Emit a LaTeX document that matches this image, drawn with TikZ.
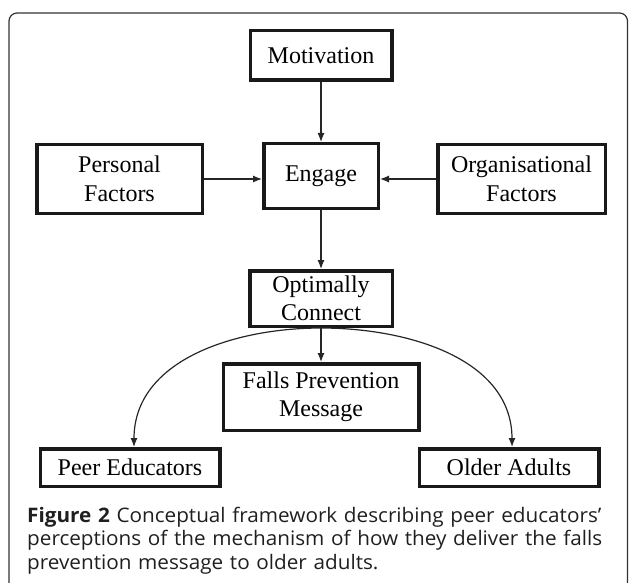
\documentclass[tikz,border=0pt]{standalone}
\usepackage{fontspec}
\setmainfont{Liberation Serif}
\newfontfamily\capfont[FakeStretch=1.035]{Open Sans}
\usetikzlibrary{arrows.meta, positioning}

\tikzset{
    factor/.style={draw=black!90, line width=3.5pt, inner sep=2pt, align=center,
        font=\fontsize{24}{28.5}\selectfont},
    link/.style={->, line width=1.2pt, draw=black!85}
}

\begin{document}
\begin{tikzpicture}[x=1pt, y=-1pt, >={Latex[length=9pt, width=7pt]}]
    \useasboundingbox (0,0) rectangle (629,583);
    \begin{scope}
        \clip (0,0) rectangle (629,583);
        \draw[black!80, line width=1.2pt, rounded corners=8pt] (9,13) rectangle (627.5,620);
    \end{scope}

    \node (engage) [factor, minimum width=114.5pt, minimum height=64.5pt] at (321,176) {Engage};
    \node (motivation) [factor, above=60pt of engage, minimum width=141.5pt, minimum height=49.5pt] {Motivation};
    \node (personal) [factor, left=58pt of engage, yshift=-3pt, minimum width=165.5pt, minimum height=68.5pt] {Personal\\Factors};
    \node (organisational) [factor, right=56pt of engage, yshift=-3pt, minimum width=167.5pt, minimum height=68.5pt] {Organisational\\Factors};
    \node (optimally) [factor, below=59pt of engage, minimum width=142.5pt, minimum height=55.5pt] {Optimally\\Connect};
    \node (falls) [factor, below=34pt of optimally, minimum width=195.5pt, minimum height=66.5pt] {Falls Prevention\\Message};
    \node (peer) [factor, below left=15pt and 0pt of falls.south west, minimum width=179.5pt, minimum height=37.5pt] {Peer Educators};
    \node (older) [factor, below right=15pt and -3pt of falls.south east, minimum width=179.5pt, minimum height=37.5pt] {Older Adults};

    \draw[link] (motivation) -- (engage);
    \draw[link] (personal.east) -- (personal.east -| engage.west);
    \draw[link] (organisational.west) -- (organisational.west -| engage.east);
    \draw[link] (engage) -- (optimally);
    \draw[link] (optimally) -- (falls);
    \draw[link] (optimally.south) to[out=180, in=90] ([xshift=4pt]peer.north);
    \draw[link] (optimally.south) to[out=0, in=90] ([xshift=3pt]older.north);

    \node (caption) [anchor=base west, inner sep=0pt, text width=600pt, align=left,
        font=\capfont\fontsize{20}{23.5}\selectfont, text=black!88] at (27,522)
        {\textbf{Figure 2} Conceptual framework describing peer educators’\\
         perceptions of the mechanism of how they deliver the falls\\
         prevention message to older adults.};
\end{tikzpicture}
\end{document}
